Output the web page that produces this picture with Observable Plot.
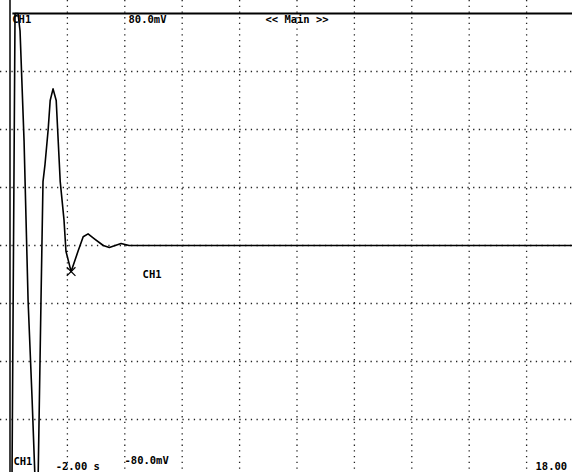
<!DOCTYPE html>
<html>
<head>
<meta charset="utf-8">
<script src="https://cdn.jsdelivr.net/npm/d3@7"></script>
<script src="https://cdn.jsdelivr.net/npm/@observablehq/plot@0.6"></script>
<style>
  html, body { margin: 0; padding: 0; background: #fff; }
  #chart svg { display: block; overflow: hidden; }
</style>
</head>
<body>
<div id="chart"></div>
<script>
// Waveform (time in s, voltage in mV)
const times = [-1.93, -1.825, -1.72, -1.65, -1.51, -1.37, -1.23, -1.13, -1.02, -0.92, -0.85, -0.78, -0.67, -0.60, -0.50, -0.39, -0.25, -0.12, -0.05, 0.13, 0.37, 0.55, 0.72, 0.93, 1.25, 1.46, 1.87, 2.15, 5.0, 10.0, 15.0, 18.0];
const volts = [-80, 80, 80, 74, 36, -19, -53, -80, -80, -19, 22, 28, 40, 50, 54, 50, 22, 9, -2, -9, -2, 3, 4, 2.4, 0, -0.7, 0.7, 0, 0, 0, 0, 0];

// Grid divisions
const timeDivs = [0, 2, 4, 6, 8, 10, 12, 14, 16];
const voltDivs = [-60, -40, -20, 0, 20, 40, 60];

// Trigger / cursor mark
const cursorT = [0.13];
const cursorV = [-9];

// Screen labels
const labelText = ["CH1", "80.0mV", "<< Main >>", "CH1", "CH1", "-80.0mV", "-2.00 s", "18.00"];
const labelT = [-1.92, 2.13, 6.9, 2.62, -1.88, 1.99, -0.41, 16.31];
const labelV = [77.9, 77.9, 77.9, -10, -74.5, -74.1, -76.2, -76.2];

const trace = times.map((t, i) => ({t, v: volts[i]}));
const labels = labelText.map((s, i) => ({s, t: labelT[i], v: labelV[i]}));
const cursor = cursorT.map((t, i) => ({t, v: cursorV[i]}));

const chart = Plot.plot({
  width: 572,
  height: 472,
  margin: 0,
  style: {background: "#fff", fontFamily: "DejaVu Sans Mono", overflow: "hidden"},
  x: {domain: [-2, 18], range: [9.5, 583.5], axis: null},
  y: {domain: [-80, 80], range: [477, 13], axis: null},
  marks: [
    Plot.ruleX(timeDivs, {stroke: "#222", strokeWidth: 1.3, strokeDasharray: "1.3,4.4"}),
    Plot.ruleY(voltDivs, {stroke: "#222", strokeWidth: 1.3, strokeDasharray: "1.3,4.4"}),
    Plot.ruleY([80], {x1: -1.9, x2: 18, stroke: "#000", strokeWidth: 2}),
    Plot.ruleX([-2], {stroke: "#000", strokeWidth: 1.5}),
    Plot.line(trace, {x: "t", y: "v", stroke: "#000", strokeWidth: 1.6, curve: "linear"}),
    Plot.dot(cursor, {x: "t", y: "v", symbol: "times", r: 4, stroke: "#000", strokeWidth: 1.2}),
    Plot.text(labels, {x: "t", y: "v", text: "s", textAnchor: "start", fontSize: 10.5, fontWeight: "bold", fill: "#000", fontFamily: "DejaVu Sans Mono"})
  ]
});
document.getElementById("chart").appendChild(chart);
</script>
</body>
</html>
